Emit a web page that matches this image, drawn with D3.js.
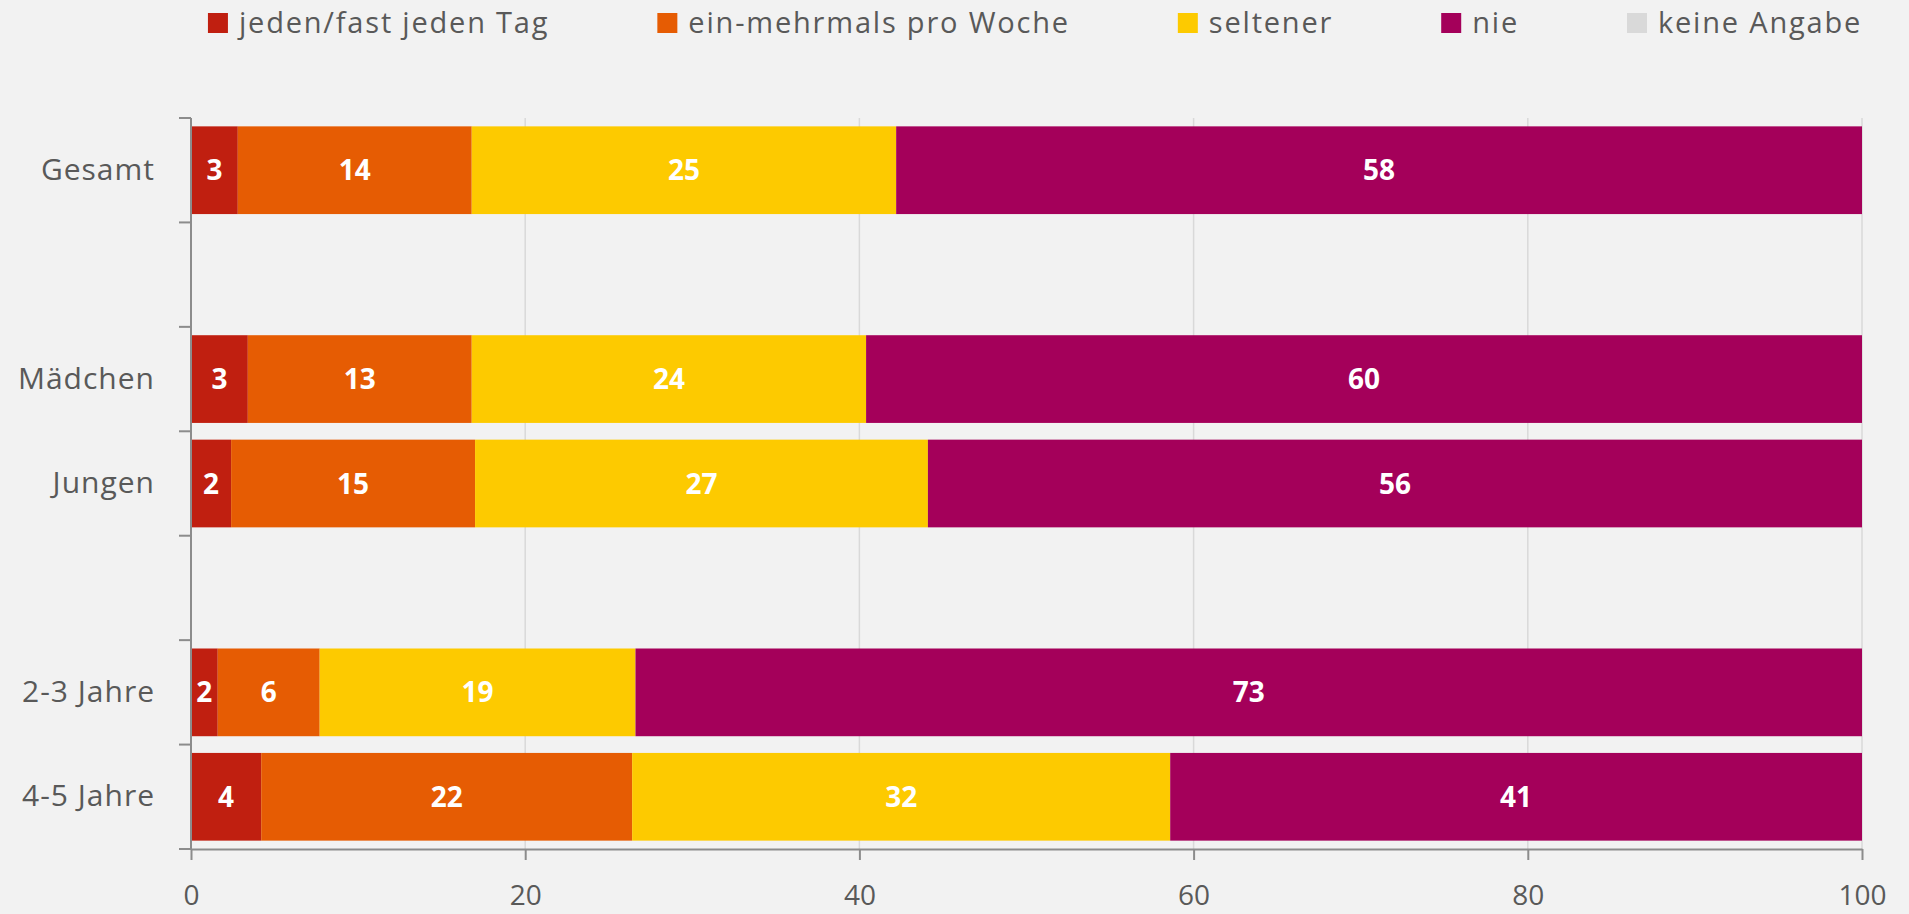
<!DOCTYPE html>
<meta charset="utf-8">
<html>
<script src="https://d3js.org/d3.v7.min.js"></script>
<style>
    body { margin: 0; background: #f2f2f2; }
    text { font-family: "Open Sans", sans-serif; }
</style>
<body>
<div id="my_dataviz"></div>
<script>

    // categories (empty strings are the spacer rows)
    const categories = ["Gesamt", " ", "Mädchen", "Jungen", "  ", "2-3 Jahre", "4-5 Jahre"];
    const seriesNames = ["jeden/fast jeden Tag", "ein-mehrmals pro Woche", "seltener", "nie", "keine Angabe"];
    const seriesColors = ["#c01f10", "#e65c03", "#fdca00", "#a4005a", "#d9d9d9"];

    // values per series, one per category (null = spacer row)
    const daily   = [2.8, null, 3.4, 2.4, null, 1.6, 4.2];
    const weekly  = [14.0, null, 13.4, 14.6, null, 6.1, 22.2];
    const seldom  = [25.4, null, 23.6, 27.1, null, 18.9, 32.2];
    const never   = [57.8, null, 59.6, 55.9, null, 73.4, 41.4];
    const noInfo  = [0, null, 0, 0, null, 0, 0];

    const xTicks = [0, 20, 40, 60, 80, 100];

    const margin = {top: 118, right: 47, bottom: 65, left: 191},
        width = 1909 - margin.left - margin.right,
        height = 914 - margin.top - margin.bottom;

    const svg = d3.select("#my_dataviz")
      .append("svg")
        .attr("width", 1909)
        .attr("height", 914)
      .append("g")
        .attr("transform", `translate(${margin.left}, ${margin.top})`);

    const x = d3.scaleLinear()
      .domain([0, 100])
      .range([0, width]);

    const y = d3.scaleBand()
      .domain(categories)
      .range([0, height])
      .paddingInner(0.16)
      .paddingOuter(0.08);

    // gridlines
    svg.append("g")
      .selectAll("line")
      .data(xTicks.slice(1))
      .join("line")
        .attr("x1", d => x(d))
        .attr("x2", d => x(d))
        .attr("y1", 0)
        .attr("y2", height)
        .attr("stroke", "#d9d9d9")
        .attr("stroke-width", 1.5);

    // build stacked data
    const table = categories.map((c, i) => ({
        cat: c,
        [seriesNames[0]]: daily[i],
        [seriesNames[1]]: weekly[i],
        [seriesNames[2]]: seldom[i],
        [seriesNames[3]]: never[i],
        [seriesNames[4]]: noInfo[i]
    })).filter(d => d[seriesNames[0]] !== null);

    const stacked = d3.stack().keys(seriesNames)(table);

    const layers = svg.append("g")
      .selectAll("g")
      .data(stacked)
      .join("g")
        .attr("fill", (d, i) => seriesColors[i]);

    layers.selectAll("rect")
      .data(d => d)
      .join("rect")
        .attr("x", d => x(d[0]))
        .attr("y", d => y(d.data.cat))
        .attr("width", d => x(d[1]) - x(d[0]))
        .attr("height", y.bandwidth());

    // value labels
    layers.filter((d, i) => i < 4)
      .selectAll("text")
      .data(d => d)
      .join("text")
        .attr("x", d => (x(d[0]) + x(d[1])) / 2)
        .attr("y", d => y(d.data.cat) + y.bandwidth() / 2)
        .attr("dy", "0.36em")
        .attr("text-anchor", "middle")
        .attr("fill", "white")
        .style("font-size", "28px")
        .style("font-weight", "bold")
        .text(d => Math.round(d[1] - d[0]));

    // y axis: line, boundary ticks, labels
    const axisColor = "#8c8c8c";
    svg.append("line")
      .attr("x1", 0).attr("x2", 0)
      .attr("y1", 0).attr("y2", height)
      .attr("stroke", axisColor).attr("stroke-width", 2);
    svg.append("g")
      .selectAll("line")
      .data(d3.range(categories.length + 1))
      .join("line")
        .attr("x1", -12).attr("x2", 0)
        .attr("y1", i => i * y.step())
        .attr("y2", i => i * y.step())
        .attr("stroke", axisColor).attr("stroke-width", 2);

    const yAxis = svg.append("g")
      .call(d3.axisLeft(y).tickSize(0).tickPadding(36));
    yAxis.select(".domain").remove();
    yAxis.selectAll("text")
      .style("font-family", "Open Sans")
      .style("font-size", "30px")
      .style("letter-spacing", "1px")
      .attr("fill", "#595959");

    // x axis
    const xAxis = svg.append("g")
      .attr("transform", `translate(0, ${height})`)
      .call(d3.axisBottom(x).tickValues(xTicks).tickSize(11).tickPadding(25).tickSizeOuter(0));
    xAxis.select(".domain").attr("stroke", axisColor).attr("stroke-width", 2);
    xAxis.selectAll("line").attr("stroke", axisColor).attr("stroke-width", 2);
    xAxis.selectAll("text")
      .style("font-family", "Open Sans")
      .style("font-size", "28px")
      .attr("fill", "#595959");

    // legend
    const legend = d3.select("svg").append("g");
    let lx = 0;
    seriesNames.forEach((name, i) => {
        const item = legend.append("g").attr("transform", `translate(${lx}, 0)`);
        item.append("rect")
          .attr("x", 0).attr("y", 13)
          .attr("width", 20).attr("height", 20)
          .attr("fill", seriesColors[i]);
        const t = item.append("text")
          .attr("x", 31).attr("y", 33)
          .attr("fill", "#595959")
          .style("font-size", "29px")
          .style("letter-spacing", "1.8px")
          .text(name);
        lx += 31 + t.node().getComputedTextLength() + 108;
    });
    const lw = lx - 108;
    legend.attr("transform", `translate(${1035 - lw / 2}, 0)`);

</script>
</body>
</html>
